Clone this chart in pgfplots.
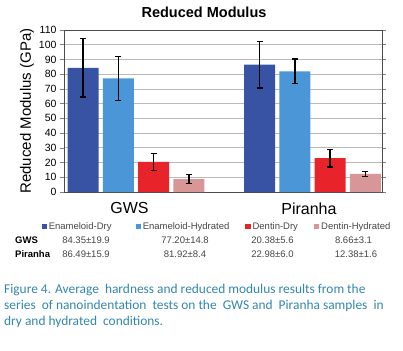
\documentclass[border=0pt]{standalone}
\usepackage{pgfplots}
\pgfplotsset{compat=1.18}
\usepackage{fontspec}
\setmainfont{Liberation Sans}
\newfontfamily\capfont{Carlito}
\definecolor{cED}{RGB}{56,82,164}
\definecolor{cEH}{RGB}{74,150,214}
\definecolor{cDD}{RGB}{232,35,42}
\definecolor{cDH}{RGB}{216,150,150}
\definecolor{capcol}{RGB}{50,135,175}
\definecolor{txtgray}{RGB}{70,70,70}
\begin{document}
\begin{tikzpicture}
\useasboundingbox (0,0) rectangle (403pt,-350pt);
\fill[white] (0,0) rectangle (403pt,-350pt);
\begin{axis}[
  at={(64pt,-192pt)}, anchor=south west,
  scale only axis, width=318pt, height=162pt,
  /pgf/number format/assume math mode=true,
  xmin=-0.408, xmax=1.394, ymin=0, ymax=110,
  ytick distance=10,
  xtick={-0.037,0.98}, xticklabels={GWS,Piranha},
  xticklabel style={font=\fontsize{16}{18}\selectfont, yshift=-3pt},
  yticklabel style={font=\fontsize{10.5}{12}\selectfont, color=black},
  xtick style={draw=none},
  ytick style={color=gray, line width=0.6pt},
  tick align=outside, major tick length=4pt,
  ymajorgrids, grid style={color=gray!55, line width=0.8pt},
  axis line style={color=black!70, line width=0.9pt},
  ylabel={Reduced Modulus (GPa)},
  ylabel style={at={(axis description cs:-0.116,0.5)}, anchor=center, font=\fontsize{15}{17}\selectfont},
  ybar, bar width=0.176,
  error bars/y dir=both, error bars/y explicit,
  error bars/error bar style={line width=1.6pt, black},
  error bars/error mark options={rotate=90, mark size=3pt, line width=1.2pt, black},
  legend columns=4,
  legend style={at={(axis description cs:0.481,-0.212)}, anchor=center, draw=none, fill=none,
    font=\fontsize{9.5}{11}\selectfont\color{txtgray},
    inner sep=0pt,
    /tikz/column 2/.style={column sep=22pt},
    /tikz/column 4/.style={column sep=14pt},
    /tikz/column 6/.style={column sep=14pt}},
  legend image code/.code={\draw[#1,draw=none,/tikz/.cd] (0pt,-2.6pt) rectangle (5.2pt,2.6pt);},
]
\addplot[fill=cED, draw=none, bar shift=-0.3] coordinates {(0,84.35) +- (0,19.9) (1,86.49) +- (0,15.9)};
\addplot[fill=cEH, draw=none, bar shift=-0.1] coordinates {(0,77.20) +- (0,14.8) (1,81.92) +- (0,8.4)};
\addplot[fill=cDD, draw=none, bar shift=0.1] coordinates {(0,20.38) +- (0,5.6) (1,22.98) +- (0,6.0)};
\addplot[fill=cDH, draw=none, bar shift=0.3] coordinates {(0,8.66) +- (0,3.1) (1,12.38) +- (0,1.6)};
\legend{Enameloid-Dry, Enameloid-Hydrated, Dentin-Dry, Dentin-Hydrated}
\end{axis}
\node[font=\bfseries\fontsize{14.5}{17}\selectfont] at (204pt,-12pt) {Reduced Modulus};
% table
\begin{scope}[every node/.style={font=\fontsize{9.5}{11}\selectfont, text=txtgray, inner sep=0pt}]
\node[anchor=west, text=black, font=\bfseries\fontsize{9.5}{11}\selectfont] at (15pt,-240.5pt) {GWS};
\node[anchor=west, text=black, font=\bfseries\fontsize{9.5}{11}\selectfont] at (15pt,-254.5pt) {Piranha};
\node at (86pt,-240.5pt) {84.35±19.9};
\node at (185pt,-240.5pt) {77.20±14.8};
\node at (272.5pt,-240.5pt) {20.38±5.6};
\node at (353.5pt,-240.5pt) {8.66±3.1};
\node at (86pt,-254.5pt) {86.49±15.9};
\node at (185pt,-254.5pt) {81.92±8.4};
\node at (272.5pt,-254.5pt) {22.98±6.0};
\node at (356pt,-254.5pt) {12.38±1.6};
\end{scope}
% caption
\begin{scope}[every node/.style={font=\capfont\fontsize{13.4}{15}\selectfont, text=capcol, anchor=west, inner sep=0pt}]
\node at (4pt,-290pt) {Figure 4. Average\ \ hardness and reduced modulus results from the};
\node at (4pt,-306pt) {series\ \ of nanoindentation\ \ tests on the\ \ GWS and\ \ Piranha samples\ \ in};
\node at (4pt,-322pt) {dry and hydrated\ \ conditions.};
\end{scope}
\end{tikzpicture}
\end{document}
